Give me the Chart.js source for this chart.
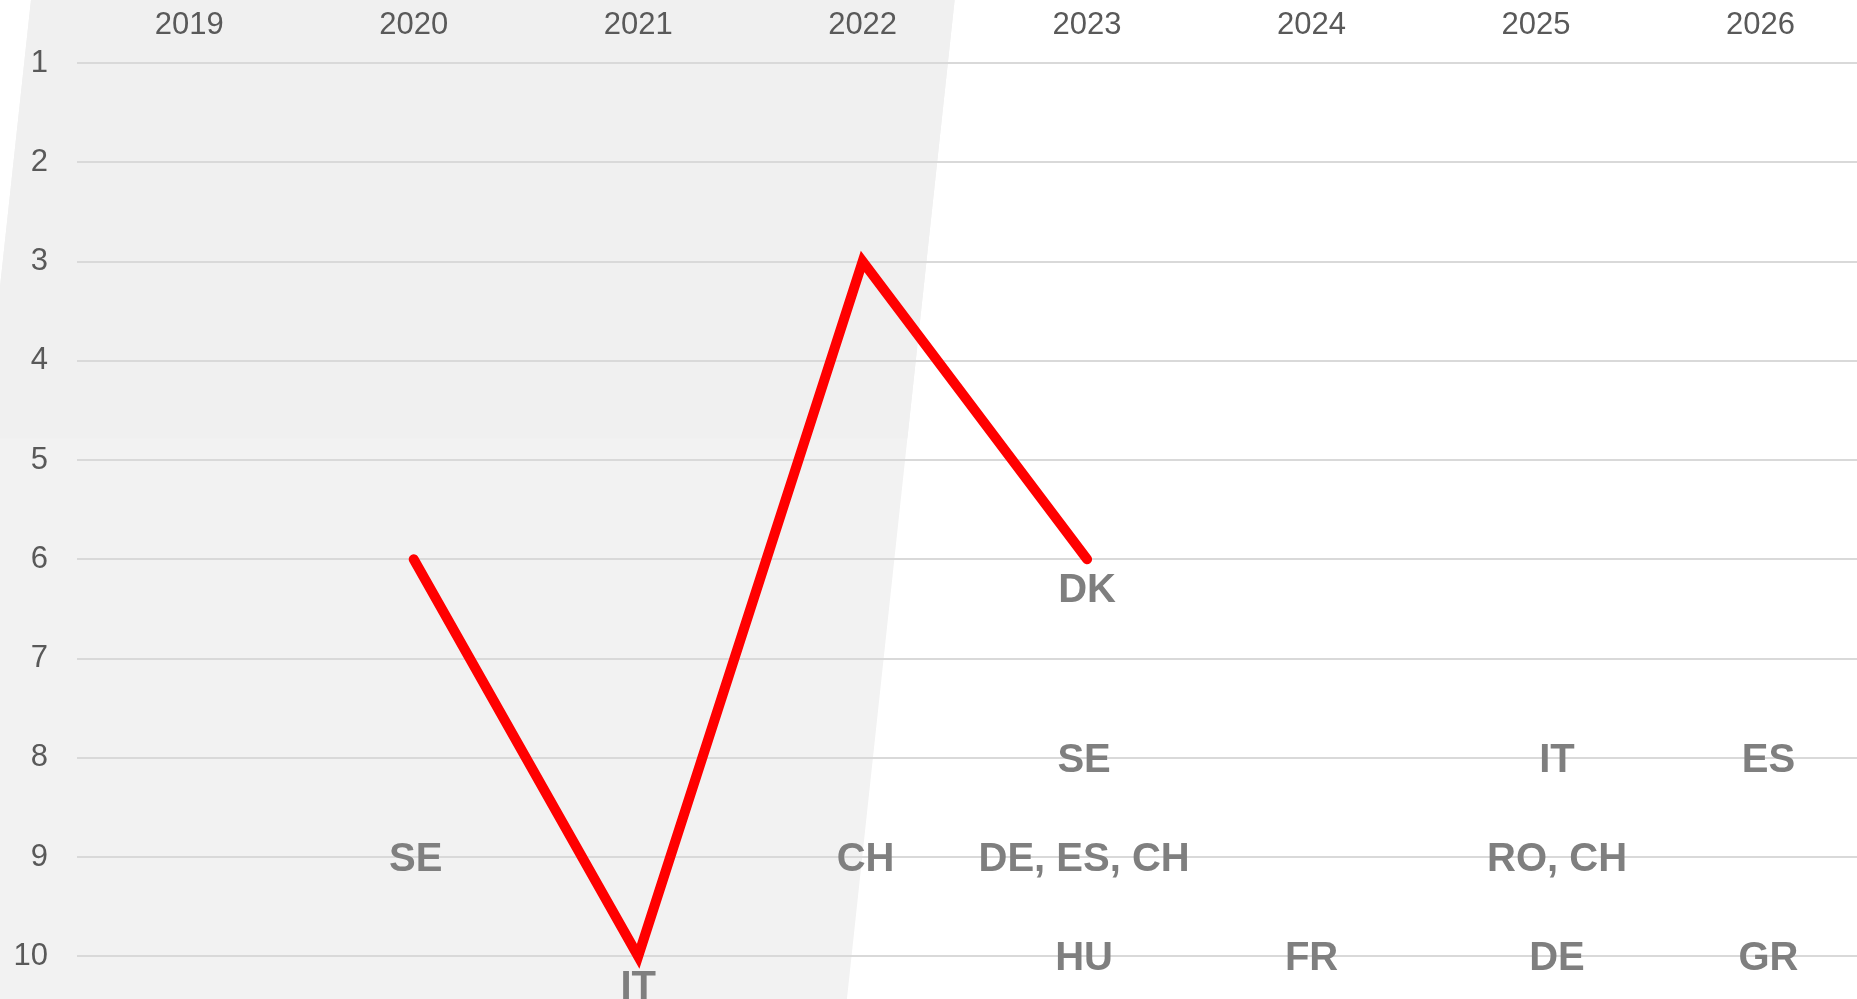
<!DOCTYPE html>
<html>
<head>
<meta charset="utf-8">
<script src="https://cdn.jsdelivr.net/npm/chart.js@4"></script>
<style>
  html, body { margin: 0; padding: 0; background: #fff; overflow: hidden; }
  #wrap { width: 1857px; height: 999px; position: relative; }
</style>
</head>
<body>
<div id="wrap"><canvas id="myChart"></canvas></div>
<script>
// years on the top axis, ranks on the left axis (1 = best)
var years = [2019, 2020, 2021, 2022, 2023, 2024, 2025, 2026];
var rankTicks = [1, 2, 3, 4, 5, 6, 7, 8, 9, 10];

// red line
var dkYears = [2020, 2021, 2022, 2023];
var dkRanks = [6, 10, 3, 6];

// country labels
var labelYears = [2020, 2021, 2022, 2023, 2023, 2023, 2023, 2024, 2025, 2025, 2025, 2026, 2026];
var labelRanks = [9, 10, 9, 6, 8, 9, 10, 10, 8, 9, 10, 8, 10];
var labelTexts = ['SE', 'IT', 'CH', 'DK', 'SE', 'DE, ES, CH', 'HU', 'FR', 'IT', 'RO, CH', 'DE', 'ES', 'GR'];

Chart.defaults.font.family = "'Liberation Sans', Arial, sans-serif";
var tickFont = { size: 31 };

var lineData = dkYears.map(function (y, i) { return { x: y, y: dkRanks[i] }; });
var labelData = labelYears.map(function (y, i) { return { x: y, y: labelRanks[i] }; });

// grey slanted band behind 2019-2022 (edges given in year units, top and bottom of canvas)
var band = { leftTop: 2018.295, leftBottom: 2017.814, rightTop: 2022.41, rightBottom: 2021.93 };

var bgPlugin = {
  id: 'bg',
  beforeDraw: function (chart) {
    var ctx = chart.ctx, x = chart.scales.x, h = chart.height;
    ctx.save();
    ctx.fillStyle = '#ffffff';
    ctx.fillRect(0, 0, chart.width, h);
    ctx.beginPath();
    ctx.moveTo(x.getPixelForValue(band.leftTop), 0);
    ctx.lineTo(x.getPixelForValue(band.rightTop), 0);
    ctx.lineTo(x.getPixelForValue(band.rightBottom), h);
    ctx.lineTo(x.getPixelForValue(band.leftBottom), h);
    ctx.closePath();
    ctx.fillStyle = '#f2f2f2';
    ctx.fill();
    // top part of the band is a touch darker
    ctx.clip();
    ctx.fillStyle = '#f0f0f0';
    ctx.fillRect(0, 0, chart.width, chart.scales.y.getPixelForValue(4.78));
    ctx.restore();
  }
};

// small sideways nudges seen in the picture
var nudge = { 2025: 21, 2026: 8, 2023: -3, 2020: 2, 2022: 3 };

var labelPlugin = {
  id: 'countryLabels',
  afterDatasetsDraw: function (chart) {
    var ctx = chart.ctx;
    var meta = chart.getDatasetMeta(1);
    ctx.save();
    ctx.font = 'bold 40px ' + Chart.defaults.font.family;
    ctx.fillStyle = '#7f7f7f';
    ctx.textAlign = 'center';
    ctx.textBaseline = 'middle';
    meta.data.forEach(function (pt, i) {
      var yr = labelYears[i], rk = labelRanks[i];
      var onLine = dkYears.some(function (d, j) { return d === yr && dkRanks[j] === rk; });
      var dx = onLine ? 0 : (nudge[yr] || 0);
      var dy = onLine ? 32 : 3;
      ctx.fillText(labelTexts[i], pt.x + dx, pt.y + dy);
    });
    ctx.restore();
  }
};

var ctx = document.getElementById('myChart').getContext('2d');
var myChart = new Chart(ctx, {
  type: 'line',
  data: {
    datasets: [{
      data: lineData,
      borderColor: '#ff0000',
      borderWidth: 10,
      borderCapStyle: 'round',
      borderJoinStyle: 'miter',
      pointRadius: 0,
      fill: false,
      tension: 0,
      clip: false
    }, {
      type: 'scatter',
      data: labelData,
      pointRadius: 0,
      showLine: false
    }]
  },
  options: {
    responsive: true,
    maintainAspectRatio: false,
    animation: false,
    layout: { padding: 0 },
    plugins: {
      legend: { display: false },
      tooltip: { enabled: false }
    },
    scales: {
      x: {
        type: 'linear',
        position: 'top',
        min: years[0] - 0.5,
        max: 2026.43,
        grid: { display: false, drawTicks: false },
        border: { display: false },
        ticks: {
          stepSize: 1,
          includeBounds: false,
          padding: 19,
          color: '#595959',
          font: tickFont,
          maxRotation: 0,
          autoSkip: false,
          callback: function (v) { return years.indexOf(v) >= 0 ? String(v) : ''; }
        },
        afterFit: function (s) { s.height = 63; s.paddingLeft = 0; s.paddingRight = 0; }
      },
      y: {
        type: 'linear',
        reverse: true,
        min: rankTicks[0],
        max: 10.43,
        grid: { color: '#d9d9d9', lineWidth: 2, drawTicks: false },
        border: { display: false },
        ticks: {
          stepSize: 1,
          includeBounds: false,
          padding: 29,
          color: '#595959',
          font: tickFont,
          callback: function (v) { return rankTicks.indexOf(v) >= 0 ? String(v) : ''; }
        },
        afterFit: function (s) { s.width = 77; s.paddingTop = 0; s.paddingBottom = 0; }
      }
    }
  },
  plugins: [bgPlugin, labelPlugin]
});
</script>
</body>
</html>
